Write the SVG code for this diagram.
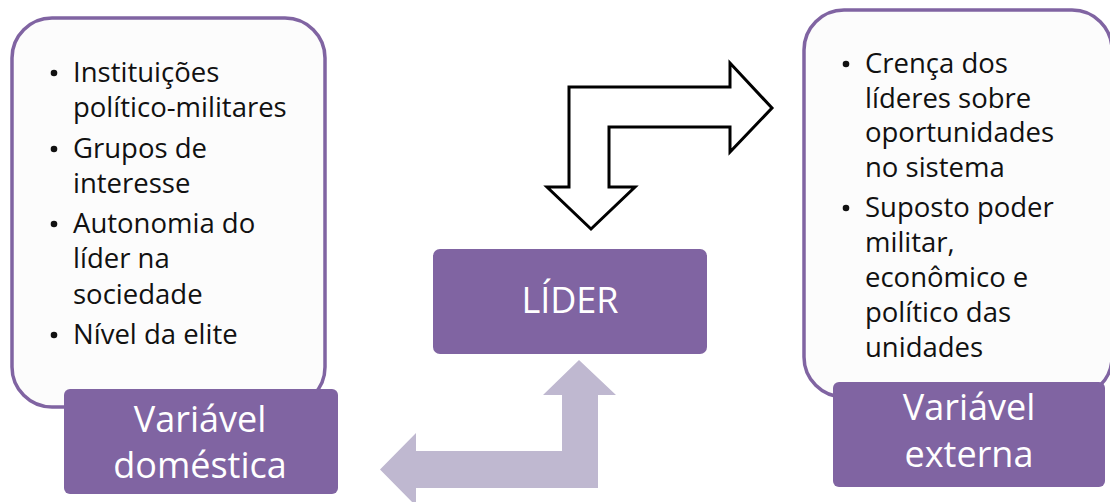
<svg xmlns="http://www.w3.org/2000/svg" width="1110" height="502" viewBox="0 0 1110 502">
  <style>
    .panel { fill: #FCFCFC; stroke: #8064A2; stroke-width: 3.5; }
    .label { fill: #8064A2; }
    .body { font-family: "Open Sans", "Noto Sans", sans-serif; font-size: 27.5px; fill: #111; }
    .head { font-family: "Open Sans", "Noto Sans", sans-serif; font-size: 36px; fill: #fff; text-anchor: middle; }
    .dot { fill: #111; }
  </style>
  <rect width="1110" height="502" fill="#ffffff"/>

  <!-- connectors -->
  <g id="connectors">
    <path id="arrow-external" d="M569,187 L547,187 L591,229 L635,187 L609,187 L609,127 L730,127 L730,152 L772,108 L730,63 L730,87 L569,87 Z" fill="#ffffff" stroke="#000000" stroke-width="3" stroke-linejoin="miter"/>
    <path id="arrow-domestic" d="M579,360 L616,395 L598,395 L598,488 L416,488 L416,506 L380,469.5 L416,433 L416,451 L562,451 L562,395 L543,395 Z" fill="#BFB8D0"/>
  </g>

  <!-- domestic variable -->
  <g id="node-domestic">
    <rect class="panel" x="12" y="18" width="313" height="389" rx="40" ry="40"/>
    <circle class="dot" cx="54" cy="73" r="3.3"/>
    <circle class="dot" cx="54" cy="149" r="3.3"/>
    <circle class="dot" cx="54" cy="224" r="3.3"/>
    <circle class="dot" cx="54" cy="335" r="3.3"/>
    <text class="body" x="73" y="82">Instituições</text>
    <text class="body" x="73" y="117">político-militares</text>
    <text class="body" x="73" y="158">Grupos de</text>
    <text class="body" x="73" y="193">interesse</text>
    <text class="body" x="73" y="233">Autonomia do</text>
    <text class="body" x="73" y="268">líder na</text>
    <text class="body" x="73" y="304">sociedade</text>
    <text class="body" x="73" y="344">Nível da elite</text>
    <rect class="label" x="64" y="389" width="274" height="105" rx="6" ry="6"/>
    <text class="head" x="200" y="432">Variável</text>
    <text class="head" x="200" y="478">doméstica</text>
  </g>

  <!-- leader -->
  <g id="node-leader">
    <rect class="label" x="433" y="249" width="274" height="105" rx="7" ry="7"/>
    <text class="head" x="570" y="313" font-size="36">LÍDER</text>
  </g>

  <!-- external variable -->
  <g id="node-external">
    <rect class="panel" x="804" y="10" width="308" height="387" rx="40" ry="40"/>
    <circle class="dot" cx="846" cy="64" r="3.3"/>
    <circle class="dot" cx="846" cy="208" r="3.3"/>
    <text class="body" x="865" y="73">Crença dos</text>
    <text class="body" x="865" y="108">líderes sobre</text>
    <text class="body" x="865" y="142">oportunidades</text>
    <text class="body" x="865" y="177">no sistema</text>
    <text class="body" x="865" y="217">Suposto poder</text>
    <text class="body" x="865" y="252">militar,</text>
    <text class="body" x="865" y="287">econômico e</text>
    <text class="body" x="865" y="322">político das</text>
    <text class="body" x="865" y="357">unidades</text>
    <rect class="label" x="833" y="382" width="272" height="105" rx="6" ry="6"/>
    <text class="head" x="969" y="420">Variável</text>
    <text class="head" x="969" y="467">externa</text>
  </g>
</svg>
